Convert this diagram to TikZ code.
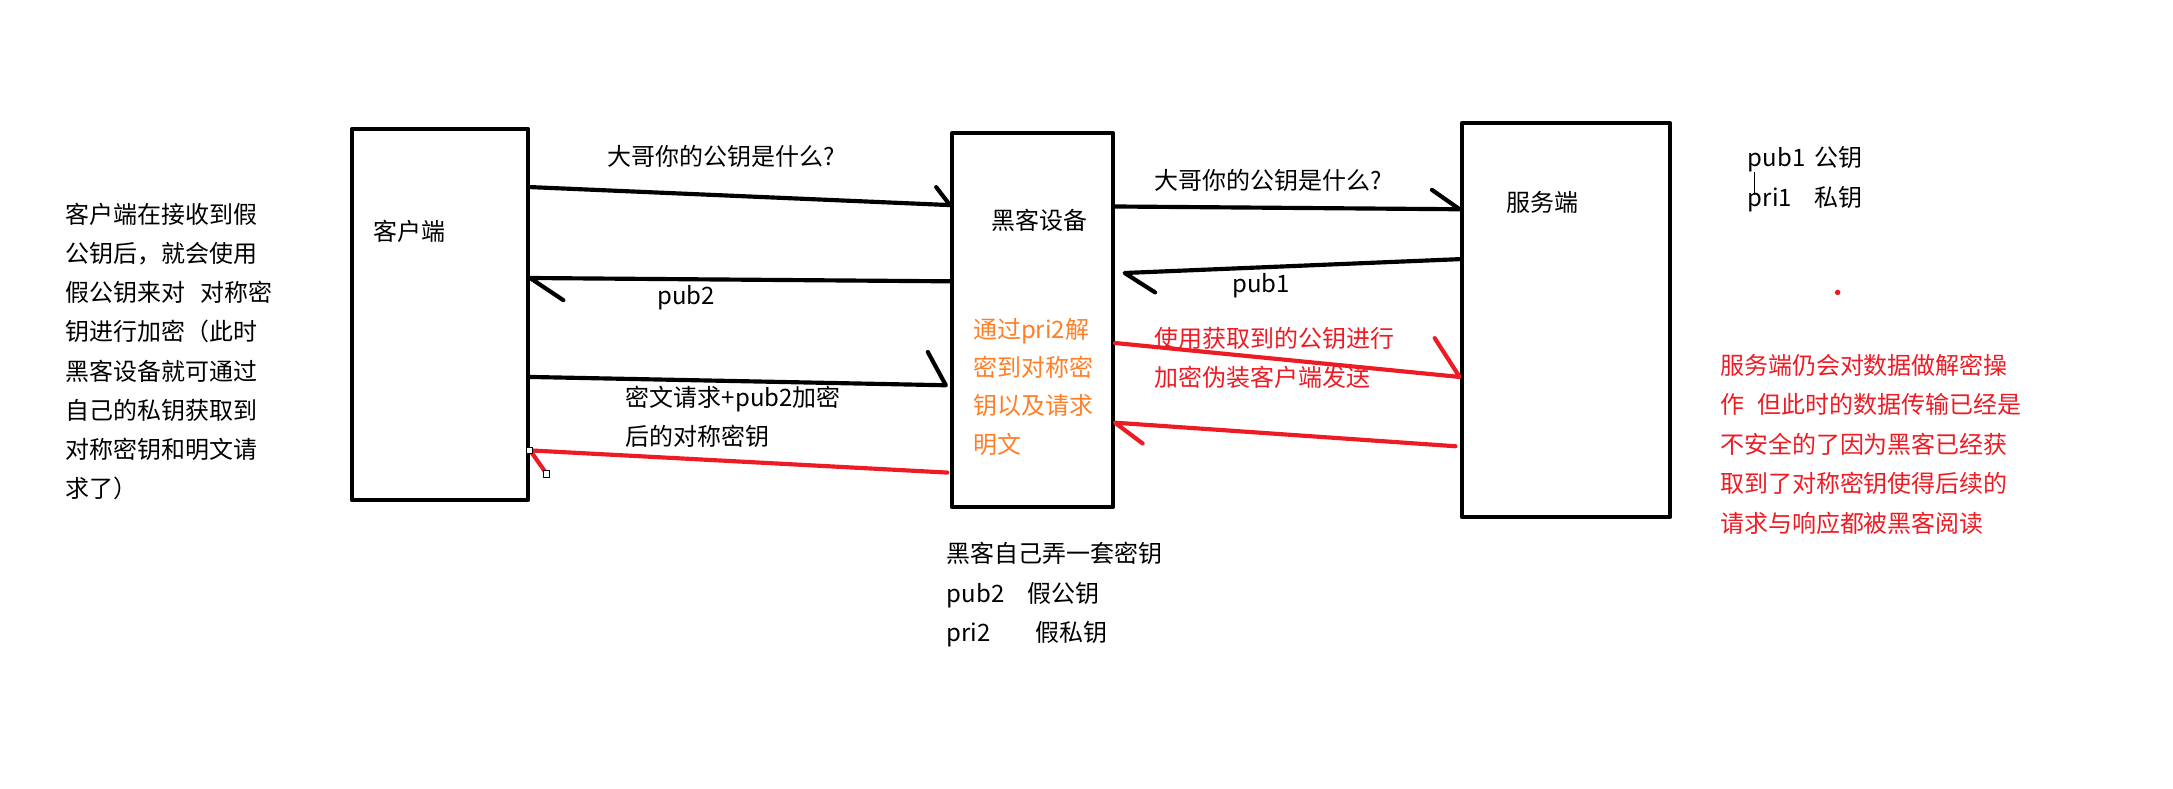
\documentclass[tikz,border=0pt]{standalone}
\usepackage{fontspec}
\newfontfamily\cjk{Noto Sans CJK SC}
\usetikzlibrary{calc}
\definecolor{huared}{RGB}{237,28,36}
\definecolor{huaorange}{RGB}{255,127,39}

\begin{document}
\begin{tikzpicture}[x=1pt, y=-1pt, line join=round, line cap=round,
	box/.style={draw, line width=3pt, inner sep=0pt},
	msg/.style={line width=3pt},
	redmsg/.style={msg, draw=huared},
	txt/.style={font=\cjk\fontsize{17.3}{28}\selectfont, inner sep=0pt, anchor=west},
	para/.style={font=\cjk\fontsize{17.3}{#1}\selectfont, inner sep=0pt, anchor=north west, align=left}]
	\useasboundingbox (0,0) rectangle (1568,569);
	
	% 三个方框
	\node[box, minimum width=127, minimum height=268] (client) at (317.5,227) {};
	\node[box, minimum width=116, minimum height=270] (hacker) at (745,231) {};
	\node[box, minimum width=150.5, minimum height=284] (server) at (1130,231) {};
	
	% 方框里的文字
	\node[txt] (clientname) at (269,167) {客户端};
	\node[txt] (hackername) at (715,159) {黑客设备};
	\node[txt] (servername) at (1087,146) {服务端};
	\node[para=27.7, text=huaorange] (decrypt) at (702,229.2) {通过pri2解\\密到对称密\\钥以及请求\\明文};
	
	% 客户端 <-> 黑客设备
	\draw[msg] (client.east |- 0,135) -- (hacker.west |- 0,148) -- ++(-10,-13);
	\draw[msg] (hacker.west |- 0,203) -- (client.east |- 0,200.6) -- ++(24,16);
	\draw[msg] (client.east |- 0,272) -- ($(hacker.west |- 0,278)+(-3,0)$) -- ++(-13,-24);
	\draw[redmsg] ($(hacker.west |- 0,341)+(-2,0)$) -- (client.east |- 0,325) -- ++(12,17);
	\filldraw[fill=white, draw=black, line width=0.6pt] (379.8,322.8) rectangle ++(4.5,4.5);
	\filldraw[fill=white, draw=black, line width=0.6pt] (391.8,339.8) rectangle ++(4.5,4.5);
	
	\node[txt] (ask1) at (438,113) {大哥你的公钥是什么?};
	\node[txt] (pubtwo) at (474,215) {pub2};
	\node[para=28] (cipher) at (451.5,278.2) {密文请求+pub2加密\\后的对称密钥};
	
	% 黑客设备 <-> 服务端
	\draw[msg] (hacker.east |- 0,149) -- (server.west |- 0,151) -- ++(-20,-14);
	\draw[msg] (server.west |- 0,187) -- ($(hacker.east |- 0,197)+(7,0)$) -- ++(22,14);
	\draw[redmsg] (hacker.east |- 0,247.5) -- (server.west |- 0,272) -- ++(-18,-28);
	\draw[redmsg] ($(server.west |- 0,322)+(-3,0)$) -- (hacker.east |- 0,305) -- ++(20,15);
	
	\node[txt] (ask2) at (833,130) {大哥你的公钥是什么?};
	\node[txt] (pubone) at (889,206) {pub1};
	\node[para=28, text=huared] (forward) at (833,236.2) {使用获取到的公钥进行\\加密伪装客户端发送};
	
	% 左边的说明
	\node[para=28.3] (note) at (47,146.2) {客户端在接收到假\\公钥后，就会使用\\假公钥来对\hspace{11pt}对称密\\钥进行加密（此时\\黑客设备就可通过\\自己的私钥获取到\\对称密钥和明文请\\求了）};
	
	% 黑客的密钥
	\node[para=28.5] (fakekeys) at (683,391.2) {黑客自己弄一套密钥\\\makebox[58pt][l]{pub2}假公钥\\\makebox[64pt][l]{pri2}假私钥};
	
	% 服务端的密钥
	\node[para=29] (realkeys) at (1261,105.2) {\makebox[48pt][l]{pub1}公钥\\\makebox[48pt][l]{pri1}私钥};
	\draw[line width=0.8pt, line cap=butt] (1266,124) -- (1266,141);
	\fill[huared] (1326,211) circle (2);
	
	% 右边的说明
	\node[para=28.5, text=huared] (result) at (1241,255.2) {服务端仍会对数据做解密操\\作\hspace{10pt}但此时的数据传输已经是\\不安全的了因为黑客已经获\\取到了对称密钥使得后续的\\请求与响应都被黑客阅读};
\end{tikzpicture}
\end{document}
